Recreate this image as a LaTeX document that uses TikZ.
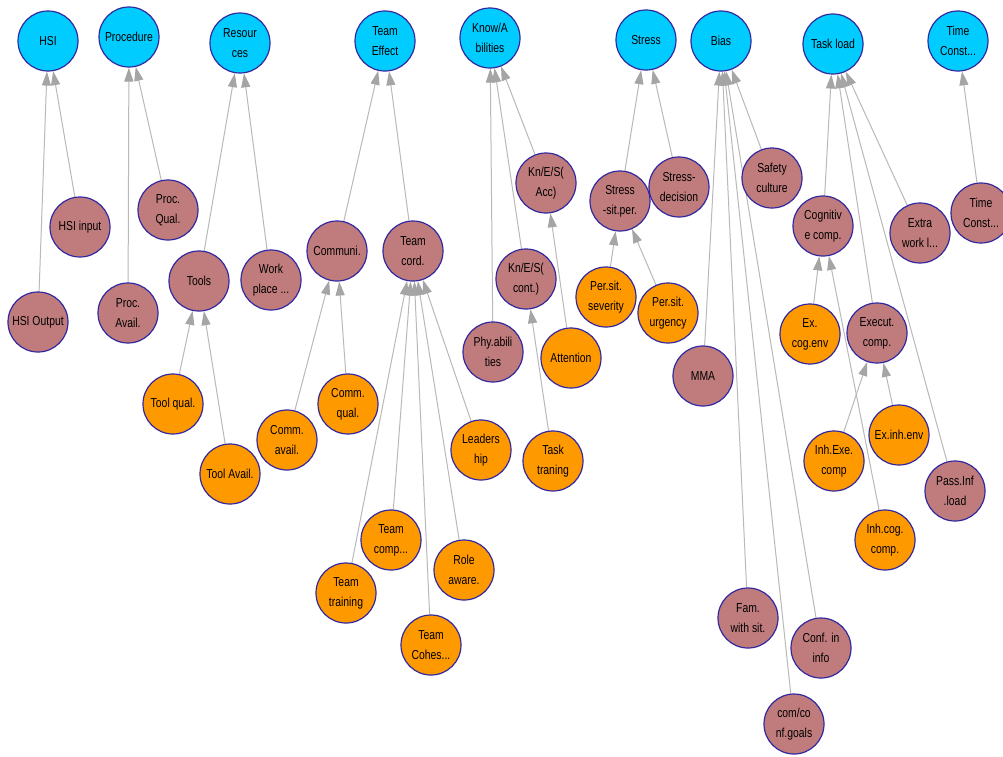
\documentclass[tikz,border=0pt]{standalone}
\usepackage{fontspec}
\newfontfamily\nodefont[FakeStretch=0.8]{Liberation Sans}
\usetikzlibrary{arrows.meta,backgrounds}
\definecolor{rimblue}{RGB}{50,40,160}
\definecolor{topfill}{RGB}{0,204,255}
\definecolor{midfill}{RGB}{192,124,124}
\definecolor{leaffill}{RGB}{255,153,0}
\definecolor{linkgray}{RGB}{185,185,185}
\definecolor{tipgray}{RGB}{165,165,165}
\tikzset{
  factor/.style={circle, draw=rimblue, line width=1.2pt, minimum size=60pt,
    inner sep=0pt, align=center, text=black,
    font=\nodefont\fontsize{13}{20}\selectfont},
  topnode/.style={factor, fill=topfill},
  midnode/.style={factor, fill=midfill},
  leafnode/.style={factor, fill=leaffill},
  link/.style={draw=linkgray, line width=1pt,
    -{Triangle[length=14pt,width=9pt,color=tipgray]}}
}
\begin{document}
\begin{tikzpicture}[x=1pt,y=-1pt]
\useasboundingbox (0,0) rectangle (1003,756);

% top-level factors
\node[topnode] (hsi)   at (48,41)  {HSI};
\node[topnode] (proc)  at (129,37) {Procedure};
\node[topnode] (res)   at (240,43) {Resour\\ces};
\node[topnode] (teff)  at (385,41) {Team\\Effect};
\node[topnode] (know)  at (490,38) {Know/A\\bilities};
\node[topnode] (stress)at (646,40) {Stress};
\node[topnode] (bias)  at (721,41) {Bias};
\node[topnode] (tload) at (833,44) {Task load};
\node[topnode] (tcon)  at (958,41) {Time\\Const...};

% intermediate factors
\node[midnode] (hsiin)  at (80,227)  {HSI input};
\node[midnode] (hsiout) at (38,322)  {HSI Output};
\node[midnode] (pqual)  at (168,210) {Proc.\\Qual.};
\node[midnode] (pavail) at (128,313) {Proc.\\Avail.};
\node[midnode] (tools)  at (199,281) {Tools};
\node[midnode] (work)   at (271,280) {Work\\place ...};
\node[midnode] (comm)   at (337,251) {Communi.};
\node[midnode] (tcord)  at (413,251) {Team\\cord.};
\node[midnode] (ksacc)  at (546,183) {Kn/E/S(\\Acc)};
\node[midnode] (kscont) at (526,279) {Kn/E/S(\\cont.)};
\node[midnode] (phy)    at (493,352) {Phy.abili\\ties};
\node[midnode] (ssit)   at (620,201) {Stress\\-sit.per.};
\node[midnode] (sdec)   at (679,187) {Stress-\\decision};
\node[midnode] (safety) at (772,178) {Safety\\culture};
\node[midnode] (mma)    at (703,376) {MMA};
\node[midnode] (fam)    at (748,618) {Fam.\\with sit.};
\node[midnode] (conf)   at (821,648) {Conf. in\\info};
\node[midnode] (goals)  at (794,724) {com/co\\nf.goals};
\node[midnode] (cogc)   at (823,226) {Cognitiv\\e comp.};
\node[midnode] (exec)   at (877,333) {Execut.\\comp.};
\node[midnode] (extra)  at (920,233) {Extra\\work l...};
\node[midnode] (pass)   at (955,491) {Pass.Inf\\.load};
\node[midnode] (tconl)  at (981,213) {Time\\Const...};

% leaf factors
\node[leafnode] (tqual)  at (173,404) {Tool qual.};
\node[leafnode] (tavail) at (230,474) {Tool Avail.};
\node[leafnode] (cavail) at (287,440) {Comm.\\avail.};
\node[leafnode] (cqual)  at (348,404) {Comm.\\qual.};
\node[leafnode] (lead)   at (481,450) {Leaders\\hip};
\node[leafnode] (tcomp)  at (391,540) {Team\\comp...};
\node[leafnode] (ttrain) at (346,593) {Team\\training};
\node[leafnode] (role)   at (464,570) {Role\\aware.};
\node[leafnode] (tcoh)   at (431,645) {Team\\Cohes...};
\node[leafnode] (attn)   at (571,358) {Attention};
\node[leafnode] (task)   at (553,461) {Task\\traning};
\node[leafnode] (sev)    at (606,297) {Per.sit.\\severity};
\node[leafnode] (urg)    at (668,313) {Per.sit.\\urgency};
\node[leafnode] (excog)  at (810,334) {Ex.\\cog.env};
\node[leafnode] (inhexe) at (834,461) {Inh.Exe.\\comp};
\node[leafnode] (exinh)  at (899,435) {Ex.inh.env};
\node[leafnode] (inhcog) at (885,540) {Inh.cog.\\comp.};

% white page, then influence links (child -> parent) behind the circles
\begin{pgfonlayer}{background}
\fill[white] (0,0) rectangle (1003,756);
\foreach \c/\p in {hsiin/hsi, hsiout/hsi, pqual/proc, pavail/proc,
    tools/res, work/res, comm/teff, tcord/teff,
    tqual/tools, tavail/tools, cavail/comm, cqual/comm,
    ttrain/tcord, tcomp/tcord, tcoh/tcord, role/tcord, lead/tcord,
    phy/know, kscont/know, ksacc/know, attn/ksacc, task/kscont,
    ssit/stress, sdec/stress, sev/ssit, urg/ssit,
    safety/bias, mma/bias, fam/bias, goals/bias, conf/bias,
    cogc/tload, exec/tload, extra/tload, pass/tload,
    excog/cogc, inhcog/cogc, inhexe/exec, exinh/exec, tconl/tcon}
  \draw[link] (\c) -- (\p);
\end{pgfonlayer}
\end{tikzpicture}
\end{document}
